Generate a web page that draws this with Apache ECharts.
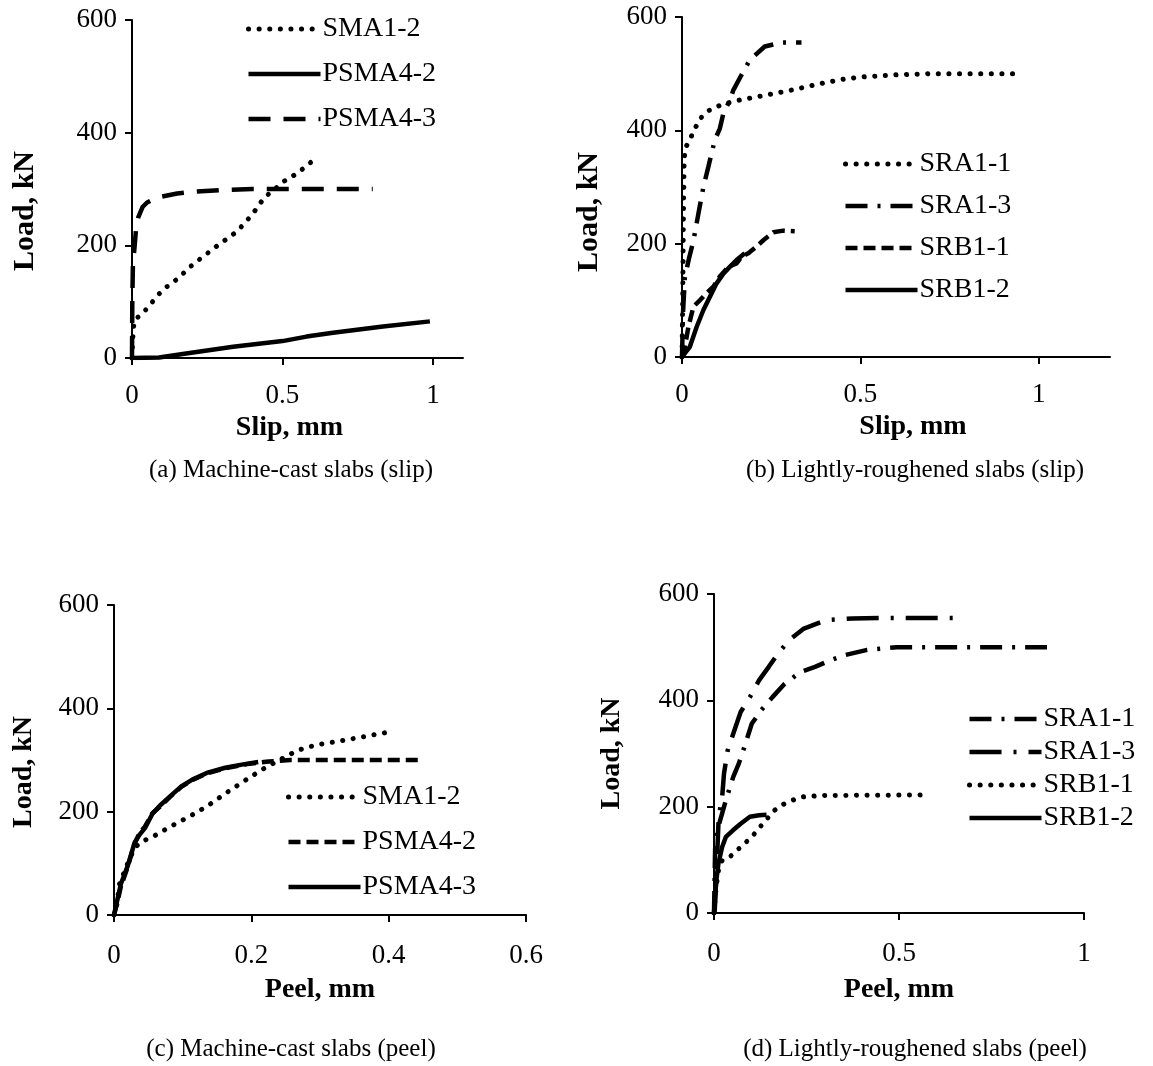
<!DOCTYPE html>
<html><head><meta charset="utf-8">
<script src="https://cdn.jsdelivr.net/npm/echarts@6/dist/echarts.min.js"></script>
<style>
html,body{margin:0;padding:0;background:#fff;}
#wrap{position:relative;width:1153px;height:1066px;}
.p{position:absolute;}
</style></head><body>
<div id="wrap">
<div id="pa" class="p" style="left:0;top:0;width:560px;height:533px"></div>
<div id="pb" class="p" style="left:560px;top:0;width:593px;height:533px"></div>
<div id="pc" class="p" style="left:0;top:533px;width:576px;height:533px"></div>
<div id="pd" class="p" style="left:576px;top:533px;width:577px;height:533px"></div>
</div>
<script>
// ---------- DATA ----------
// (a) slip, machine-cast
const slipSMA12  = [[0,0],[0.002,30],[0.005,55],[0.01,68],[0.04,82],[0.1,120],[0.15,140],[0.2,165],[0.28,198],[0.35,225],[0.4,255],[0.44,285],[0.475,300],[0.5,312],[0.55,328],[0.6,350]];
const slipPSMA42 = [[0,0],[0.09,1],[0.18,8],[0.336,20],[0.5,30],[0.58,38],[0.668,45],[0.834,56],[0.99,65]];
const slipPSMA43 = [[0,0],[0.001,100],[0.003,165],[0.009,200],[0.014,233],[0.021,250],[0.035,268],[0.05,276],[0.08,284],[0.093,286],[0.15,292],[0.2,295],[0.29,298],[0.4,300],[0.8,300]];
// (b) slip, lightly-roughened
const slipSRA11 = [[0,0],[0.002,100],[0.004,250],[0.006,350],[0.01,370],[0.02,380],[0.03,395],[0.05,420],[0.07,433],[0.09,440],[0.12,447],[0.15,452],[0.2,458],[0.25,464],[0.3,470],[0.35,477],[0.4,484],[0.45,490],[0.5,494],[0.6,498],[0.7,500],[0.94,500]];
const slipSRA13 = [[0,0],[0.003,80],[0.008,140],[0.02,175],[0.032,205],[0.046,253],[0.06,300],[0.074,336],[0.092,383],[0.106,403],[0.116,430],[0.134,453],[0.144,471],[0.167,498],[0.19,524],[0.232,548],[0.28,555],[0.335,555]];
const slipSRB11 = [[0,0],[0.008,18],[0.018,53],[0.032,89],[0.05,100],[0.069,113],[0.088,124],[0.106,142],[0.13,159],[0.153,165],[0.167,177],[0.186,183],[0.209,195],[0.228,206],[0.256,220],[0.284,223],[0.316,222]];
const slipSRB12 = [[0,0],[0.022,18],[0.041,53],[0.06,83],[0.078,106],[0.097,130],[0.116,147],[0.134,159],[0.153,171],[0.176,183]];
// (c) peel, machine-cast
const peelSMA12  = [[0,0],[0.003,10],[0.008,60],[0.02,100],[0.03,130],[0.04,142],[0.056,151],[0.082,171],[0.109,190],[0.135,210],[0.162,235],[0.188,258],[0.215,281],[0.241,300],[0.268,319],[0.294,329],[0.326,336],[0.363,345],[0.40,354]];
const peelPSMA42 = [[0,0],[0.005,25],[0.01,55],[0.02,93],[0.029,135],[0.037,158],[0.045,171],[0.056,197],[0.067,210],[0.082,229],[0.098,248],[0.114,261],[0.135,274],[0.162,284],[0.194,292],[0.225,297],[0.257,300],[0.448,300]];
const peelPSMA43 = [[0,0],[0.005,30],[0.01,60],[0.02,95],[0.03,140],[0.037,155],[0.045,168],[0.056,196],[0.067,212],[0.082,230],[0.098,249],[0.114,262],[0.135,275],[0.162,285],[0.19,292],[0.21,296]];
// (d) peel, lightly-roughened
const peelSRA11 = [[0,0],[0.003,120],[0.007,150],[0.017,175],[0.032,212],[0.052,256],[0.067,281],[0.082,312],[0.102,356],[0.127,381],[0.158,406],[0.191,431],[0.233,453],[0.273,463],[0.313,475],[0.353,485],[0.414,495],[0.494,500],[0.9,500]];
const peelSRA13 = [[0,0],[0.002,5],[0.007,80],[0.012,168],[0.017,199],[0.022,218],[0.027,262],[0.037,306],[0.052,337],[0.072,378],[0.097,406],[0.122,438],[0.148,463],[0.173,488],[0.203,513],[0.243,535],[0.303,551],[0.374,554],[0.454,555],[0.665,555]];
const peelSRB11 = [[0,0],[0.006,50],[0.012,80],[0.022,99],[0.042,105],[0.072,124],[0.102,143],[0.132,168],[0.163,193],[0.191,206],[0.233,218],[0.293,221],[0.575,222]];
const peelSRB12 = [[0,0],[0.006,60],[0.012,93],[0.022,124],[0.032,143],[0.052,156],[0.072,168],[0.097,181],[0.122,184],[0.142,185]];

// ticks
const yTicks   = [0, 200, 400, 600];
const xTicksA  = [0, 0.5, 1];
const xTicksB  = [0, 0.5, 1];
const xTicksC  = [0, 0.2, 0.4, 0.6];
const xTicksD  = [0, 0.5, 1];

// ---------- STYLES ----------
const FONT = '"Liberation Serif","Times New Roman",serif';
const W = 4.5;
const ST = {
  dot:     {type:[0.1, 10.5], width:5, cap:'round'},
  solid:   {type:'solid', width:W, cap:'butt'},
  longDash:{type:[22, 13], width:W, cap:'butt'},
  dash:    {type:[12, 6], width:W, cap:'butt'},
  dashDot: {type:[22, 10, 3, 10], width:W, cap:'butt'},
  lDashDot:{type:[32, 12, 3, 12], width:W, cap:'butt'}
};

function panel(id, cfg) {
  const chart = echarts.init(document.getElementById(id), null, {renderer:'canvas'});
  const series = cfg.series.map(s => ({
    name: s.name, type:'line', data: s.data, symbol:'none', showSymbol:false,
    smooth:false, silent:true, animation:false,
    lineStyle: Object.assign({color:'#000'}, s.style),
    itemStyle: {color:'#000'}
  }));
  chart.setOption({
    animation:false,
    textStyle:{fontFamily:FONT, color:'#000'},
    title: [{
      text: cfg.caption, left: cfg.capX, top: cfg.capY, textAlign:'center',
      textStyle:{fontFamily:FONT, fontSize:25, fontWeight:'normal', color:'#000'}
    }],
    grid: {left: cfg.grid[0], top: cfg.grid[1], width: cfg.grid[2], height: cfg.grid[3],
           containLabel:false, outerBoundsMode:'none'},
    legend: {
      orient:'vertical', left: cfg.leg[0], top: cfg.leg[1], itemGap: cfg.leg[2],
      itemWidth: 72, itemHeight: 14,
      itemStyle:{opacity:0},
      textStyle:{fontFamily:FONT, fontSize:28, color:'#000', lineHeight:30, padding:[0,0,0,-3]},
      data: cfg.series.map(s => ({name:s.name, lineStyle: Object.assign({color:'#000'}, s.style)})),
      selectedMode:false
    },
    xAxis: {
      type:'value', min:0, max: cfg.xmax,
      name: cfg.xname, nameLocation:'middle', nameGap: cfg.xGap,
      nameTextStyle:{fontFamily:FONT, fontSize:28, fontWeight:'bold', color:'#000', padding: cfg.xPad},
      axisLine:{show:true, onZero:false, lineStyle:{color:'#000', width:2}},
      axisTick:{show:true, inside:false, length:7, lineStyle:{color:'#000', width:2}, customValues: cfg.xticks},
      axisLabel:{fontFamily:FONT, fontSize:27, color:'#000', margin: cfg.xMargin, customValues: cfg.xticks, formatter: v => String(v)},
      splitLine:{show:false}
    },
    yAxis: {
      type:'value', min:0, max:600, interval:200,
      name:'Load, kN', nameLocation:'middle', nameRotate:90, nameGap: cfg.yGap,
      nameTextStyle:{fontFamily:FONT, fontSize: cfg.yFs, fontWeight:'bold', color:'#000', padding: cfg.yPad},
      axisLine:{show:true, lineStyle:{color:'#000', width:2}},
      axisTick:{show:true, inside:false, length:7, lineStyle:{color:'#000', width:2}, customValues: yTicks},
      axisLabel:{fontFamily:FONT, fontSize:27, color:'#000', margin:15, customValues: yTicks},
      splitLine:{show:false}
    },
    series
  });
}

panel('pa', {
  caption:'(a) Machine-cast slabs (slip)', capX:286, capY:453,
  grid:[132, 20, 331, 338], xmax:1.1, xticks:xTicksA, xname:'Slip, mm',
  xGap:53, xMargin:24, xPad:[0,16,0,0],
  yGap:92, yFs:30, yPad:[0,44,0,0],
  leg:[241, 9, 15],
  series:[
    {name:'SMA1-2', data:slipSMA12, style:ST.dot},
    {name:'PSMA4-2', data:slipPSMA42, style:ST.solid},
    {name:'PSMA4-3', data:slipPSMA43, style:ST.longDash}
  ]
});
panel('pb', {
  caption:'(b) Lightly-roughened slabs (slip)', capX:350, capY:453,
  grid:[122, 17, 428, 340], xmax:1.2, xticks:xTicksB, xname:'Slip, mm',
  xGap:54, xMargin:24, xPad:[0,0,0,34],
  yGap:78, yFs:30, yPad:[0,50,0,0],
  leg:[278, 144, 12],
  series:[
    {name:'SRA1-1', data:slipSRA11, style:ST.dot},
    {name:'SRA1-3', data:slipSRA13, style:ST.dashDot},
    {name:'SRB1-1', data:slipSRB11, style:ST.dash},
    {name:'SRB1-2', data:slipSRB12, style:ST.solid}
  ]
});
panel('pc', {
  caption:'(c) Machine-cast slabs (peel)', capX:286, capY:499,
  grid:[114, 72, 412, 310], xmax:0.6, xticks:xTicksC, xname:'Peel, mm',
  xGap:61, xMargin:27, xPad:[0,0,0,0],
  yGap:76, yFs:28, yPad:[0,24,0,0],
  leg:[281, 244, 15],
  series:[
    {name:'SMA1-2', data:peelSMA12, style:ST.dot},
    {name:'PSMA4-2', data:peelPSMA42, style:ST.dash},
    {name:'PSMA4-3', data:peelPSMA43, style:ST.solid}
  ]
});
panel('pd', {
  caption:'(d) Lightly-roughened slabs (peel)', capX:334, capY:499,
  grid:[138, 61, 370, 319], xmax:1, xticks:xTicksD, xname:'Peel, mm',
  xGap:63, xMargin:27, xPad:[0,0,0,0],
  yGap:88, yFs:28, yPad:[0,0,0,0],
  leg:[386, 166, 3],
  series:[
    {name:'SRA1-1', data:peelSRA11, style:ST.dashDot},
    {name:'SRA1-3', data:peelSRA13, style:ST.lDashDot},
    {name:'SRB1-1', data:peelSRB11, style:ST.dot},
    {name:'SRB1-2', data:peelSRB12, style:ST.solid}
  ]
});
</script>
</body></html>
